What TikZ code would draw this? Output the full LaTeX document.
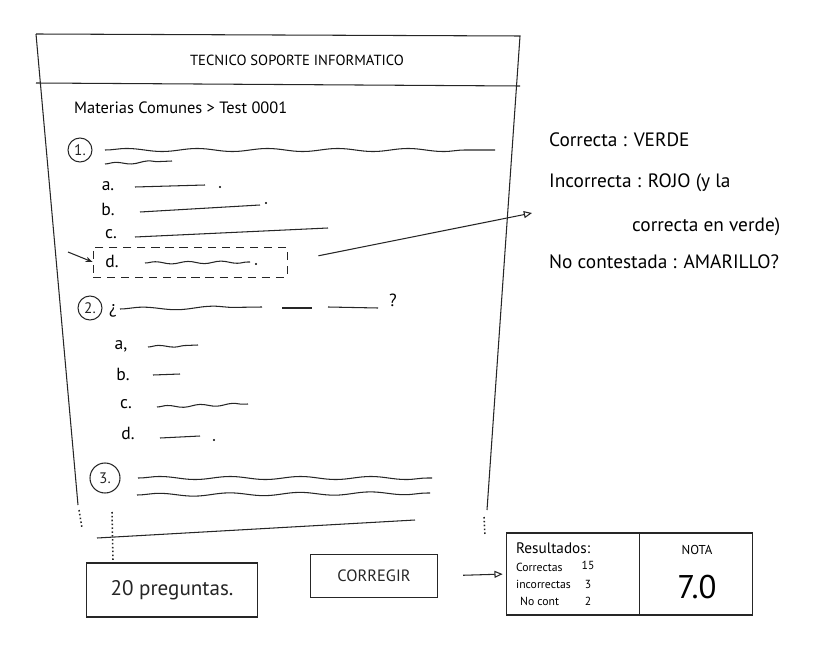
\documentclass[tikz,border=0pt]{standalone}
\usepackage{fontspec}
\setmainfont{PT Sans}
\usetikzlibrary{arrows.meta,decorations.pathmorphing,positioning}

\tikzset{
  pen/.style={line width=0.9pt, black!85},
  wave/.style={pen, decorate, decoration={snake, amplitude=1.3pt, segment length=60pt}},
  shortwave/.style={pen, decorate, decoration={snake, amplitude=1pt, segment length=28pt}},
  qnum/.style={draw, circle, pen, inner sep=1pt, minimum size=0.72cm, font=\fontsize{13}{15}\selectfont},
  opt/.style={font=\fontsize{15}{17}\selectfont},
  note/.style={anchor=west, font=\fontsize{16.5}{18}\selectfont},
  btn/.style={draw, pen},
  dots/.style={pen, line width=1.3pt, dotted},
  tip/.style={pen, -{Triangle[open, length=7pt, width=6pt]}},
}

\begin{document}
\begin{tikzpicture}[x=0.03cm, y=-0.03cm]
  \useasboundingbox (0,0) rectangle (817,653);

  % frame of the page
  \draw[pen] (36,34) -- (520,36) -- (487,510);
  \draw[pen] (36,34) -- (78,505);
  \draw[pen] (36,83) -- (520,86);
  \node[font=\fontsize{12.5}{14}\selectfont] (title) at (297,60) {TECNICO SOPORTE INFORMATICO};
  \node[anchor=west, font=\fontsize{14}{16}\selectfont] (crumb) at (70,108) {Materias Comunes > Test 0001};

  % question 1
  \node[qnum] (q1) at (80,150) {1.};
  \draw[wave] (105,150) -- (495,150);
  \draw[shortwave] (105,164) -- (172,161);
  \node[opt] (q1a) at (108,186) {a.};
  \draw[pen] (135,187) -- (205,185);
  \fill (220,187) circle (1pt);
  \node[opt] (q1b) at (108,209) {b.};
  \draw[pen] (140,212) -- (260,205);
  \fill (266,203) circle (1pt);
  \node[opt] (q1c) at (111,234) {c.};
  \draw[pen] (135,237) -- (328,228);
  \node[btn, dash pattern=on 7pt off 5pt, line width=0.7pt, minimum width=5.82cm, minimum height=0.9cm] (ansbox) at (190,262) {};
  \node[opt] (q1d) at (112,261) {d.};
  \draw[shortwave] (145,263) -- (250,262);
  \fill (256,264) circle (1pt);
  \coordinate (pointer) at (68,252);
  \draw[pen, -{Stealth[length=6pt]}] (pointer) -- (ansbox.west);

  % colour legend
  \node[note] (right) at (545,140) {Correcta : VERDE};
  \node[note] (wrong) at (545,183) {Incorrecta : ROJO (y la};
  \node[note] (wrong2) at (628,227) {correcta en verde)};
  \node[note] (blank) at (545,262) {No contestada : AMARILLO?};
  \coordinate (legtip) at (532,213);
  \draw[tip, shorten <=0.95cm] (ansbox.east) -- (legtip);

  % question 2
  \node[qnum] (q2) at (90,308) {2.};
  \node[opt] (q2open) at (113,311) {¿};
  \draw[wave] (120,309) -- (262,307);
  \draw[pen] (282,308) -- (312,308);
  \draw[pen] (328,307) -- (378,308);
  \node[opt] (q2close) at (393,300) {?};
  \node[opt] (q2a) at (121,346) {a,};
  \draw[shortwave] (148,347) -- (198,345);
  \node[opt] (q2b) at (123,374) {b.};
  \draw[pen] (153,375) -- (180,374);
  \node[opt] (q2c) at (126,404) {c.};
  \draw[shortwave] (157,407) -- (248,404);
  \node[opt] (q2d) at (128,433) {d.};
  \draw[pen] (160,438) -- (200,436);
  \fill (214,440) circle (1pt);

  % question 3
  \node[qnum, minimum size=0.9cm] (q3) at (105,478) {3.};
  \draw[wave] (138,478) -- (432,478);
  \draw[wave] (137,495) -- (430,493);
  \draw[pen] (97,538) -- (415,520);
  \draw[dots] (79,510) -- (82,528);
  \draw[dots] (112,512) -- (113,560);
  \draw[dots] (484,517) -- (485,535);

  % bottom bar
  \node[btn, minimum width=5.13cm, minimum height=1.62cm, font=\fontsize{18}{20}\selectfont] (count) at (172,590) {20 preguntas.};
  \node[btn, minimum width=3.81cm, minimum height=1.29cm, font=\fontsize{14}{16}\selectfont] (fix) at (374,576) {CORREGIR};
  \node[btn, minimum width=3.99cm, minimum height=2.46cm] (results) at (573,574) {};
  \node[btn, minimum width=3.39cm, minimum height=2.46cm, right=-0.9pt of results] (grade) {};
  \draw[tip, shorten <=0.75cm, shorten >=0.1cm] (fix.east) -- (results.west);

  \node[anchor=west, font=\fontsize{13}{15}\selectfont] (restitle) at (512,548) {Resultados:};
  \node[anchor=west, font=\fontsize{10}{11}\selectfont] (nright) at (512,567) {Correctas};
  \node[font=\fontsize{10}{11}\selectfont] (vright) at (588,565) {15};
  \node[anchor=west, font=\fontsize{10}{11}\selectfont] (nwrong) at (512,584) {incorrectas};
  \node[font=\fontsize{10}{11}\selectfont] (vwrong) at (588,584) {3};
  \node[anchor=west, font=\fontsize{10}{11}\selectfont] (nblank) at (516,601) {No cont};
  \node[font=\fontsize{10}{11}\selectfont] (vblank) at (588,601) {2};
  \node[font=\fontsize{11}{13}\selectfont] (notatitle) at (697,550) {NOTA};
  \node[font=\fontsize{28}{30}\selectfont] (notavalue) at (697,587) {7.0};
\end{tikzpicture}
\end{document}
